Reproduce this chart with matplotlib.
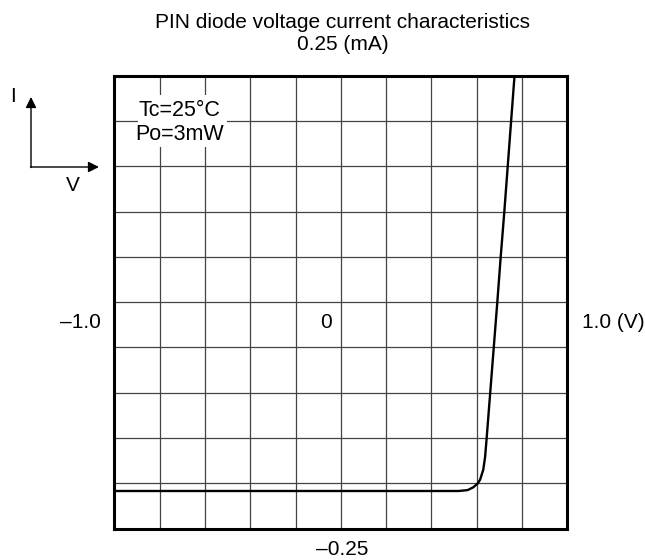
import matplotlib
matplotlib.use("Agg")
import matplotlib.pyplot as plt
from matplotlib.patches import Rectangle

plt.rcParams['font.family'] = ['Liberation Sans', 'DejaVu Sans']

# forward voltage (V) vs current (mA)
volts = [-1.0, 0.52, 0.56, 0.585, 0.605, 0.615, 0.629, 0.637, 0.644, 0.691, 0.706, 0.722, 0.767]
amps = [-0.2085, -0.2085, -0.2075, -0.2044, -0.200, -0.196, -0.185, -0.171, -0.15, 0.0, 0.05, 0.1, 0.25]

v_ticks = [-1.0 + 0.2 * k for k in range(11)]
i_ticks = [-0.25 + 0.05 * k for k in range(11)]

W, H = 645, 560
FS = 15


def fx(x, y):
  # figure pixel (from top-left) -> figure fraction
  return (x / W, 1 - y / H)


def main():
  fig = plt.figure(figsize=(W / 100, H / 100), dpi=100)
  ax = fig.add_axes([114.3 / W, (H - 528.6) / H, 453 / W, 453 / H])

  ax.set_xlim(-1.0, 1.0)
  ax.set_ylim(-0.25, 0.25)
  ax.set_xticks(v_ticks)
  ax.set_yticks(i_ticks)
  ax.tick_params(length=0, labelbottom=False, labelleft=False)
  ax.set_axisbelow(True)
  ax.grid(True, color='#444444', lw=0.9)
  for s in ax.spines.values():
    s.set_linewidth(2.2)

  ax.plot(volts, amps, color='black', lw=1.7, zorder=3,
          solid_joinstyle='round', solid_capstyle='butt')

  # white patch behind the condition labels
  ax.add_patch(Rectangle((-0.895, 0.1715), 0.391, 0.0571, facecolor='white',
                         edgecolor='none', zorder=1))
  ax.text(-0.712, 0.2054, 'Tc=25°C', ha='center', va='baseline', fontsize=FS + 0.5, zorder=2)
  ax.text(-0.712, 0.1789, 'Po=3mW', ha='center', va='baseline', fontsize=FS + 0.5, zorder=2)

  fig.text(*fx(326.3, 328.3), '0', ha='center', va='baseline', fontsize=FS)

  fig.text(*fx(342.8, 27.5), 'PIN diode voltage current characteristics',
           ha='center', va='baseline', fontsize=FS)
  fig.text(*fx(343, 50), '0.25 (mA)', ha='center', va='baseline', fontsize=FS)
  fig.text(*fx(101, 328.3), '–1.0', ha='right', va='baseline', fontsize=FS)
  fig.text(*fx(581.7, 328.3), '1.0 (V)', ha='left', va='baseline', fontsize=FS)
  fig.text(*fx(342, 555), '–0.25', ha='center', va='baseline', fontsize=FS)

  # I / V direction arrows
  fig.text(*fx(13, 101.7), 'I', ha='center', va='baseline', fontsize=FS)
  fig.text(*fx(72.8, 190.7), 'V', ha='center', va='baseline', fontsize=FS)
  ax.annotate('', xy=fx(31, 97), xytext=fx(31, 167.5), xycoords='figure fraction',
              textcoords='figure fraction',
              arrowprops=dict(arrowstyle='-|>', color='black', lw=1.0,
                              mutation_scale=16, shrinkA=0, shrinkB=0))
  ax.annotate('', xy=fx(99, 167), xytext=fx(30.5, 167), xycoords='figure fraction',
              textcoords='figure fraction',
              arrowprops=dict(arrowstyle='-|>', color='black', lw=1.0,
                              mutation_scale=16, shrinkA=0, shrinkB=0))

  fig.savefig('out.png', dpi=100)


if __name__ == "__main__":
  main()
